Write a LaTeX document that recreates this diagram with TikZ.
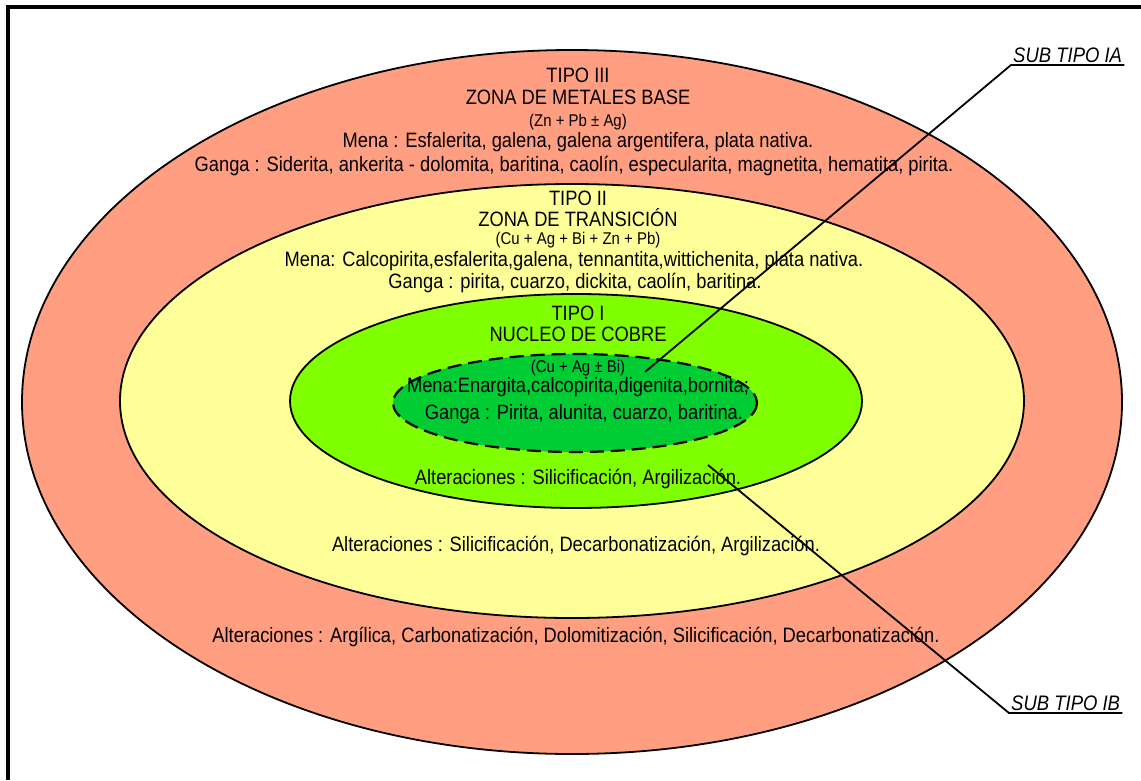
\documentclass[tikz,border=0pt]{standalone}
\usepackage{fontspec}
\setmainfont{Liberation Sans}[FakeStretch=0.88]
\definecolor{salmon}{RGB}{255,158,128}
\definecolor{paleyellow}{RGB}{255,255,153}
\definecolor{limegreen}{RGB}{128,255,0}
\definecolor{coregreen}{RGB}{0,204,51}
\tikzset{
  zone/.style={draw=black,line width=1.8pt},
  txt/.style={inner sep=0pt,font=\fontsize{20.8}{24}\selectfont},
  small/.style={inner sep=0pt,font=\fontsize{17}{20}\selectfont},
  sublabel/.style={inner sep=2pt,font=\fontsize{21}{24}\selectfont\itshape},
  leader/.style={line width=1.8pt}
}
\begin{document}
\begin{tikzpicture}[x=1pt,y=-1pt]
  \useasboundingbox (0,0) rectangle (1141,780);
  % frame
  \draw[line width=3.5pt] (8,780) -- (8,7) -- (1141,7);
  % zones
  \draw[zone,fill=salmon] (572,402) ellipse (550 and 352);
  \draw[zone,fill=paleyellow] (572,401) ellipse (452 and 217);
  \draw[zone,fill=limegreen] (576,401) ellipse (286 and 107);
  \draw[zone,fill=coregreen,line width=2.2pt,dash pattern=on 14pt off 7pt] (575,403) ellipse (182 and 49);
  % tipo III
  \node (t3a) at (578,75) [txt] {TIPO III};
  \node (t3b) at (578,97) [txt] {ZONA DE METALES BASE};
  \node (t3c) at (578,122) [small] {(Zn + Pb ± Ag)};
  \node (t3d) at (578,142) [txt] {Mena : Esfalerita, galena, galena argentifera, plata nativa.};
  \node (t3e) at (574,166) [txt] {Ganga : Siderita, ankerita - dolomita, baritina, caolín, especularita, magnetita, hematita, pirita.};
  % tipo II
  \node (t2a) at (578,198) [txt] {TIPO II};
  \node (t2b) at (578,218) [txt] {ZONA DE TRANSICIÓN};
  \node (t2c) at (578,240) [small] {(Cu + Ag + Bi + Zn + Pb)};
  \node (t2d) at (574,261) [txt] {Mena: Calcopirita,esfalerita,galena, tennantita,wittichenita, plata nativa.};
  \node (t2e) at (575,283) [txt] {Ganga : pirita, cuarzo, dickita, caolín, baritina.};
  % tipo I
  \node (t1a) at (578,313) [txt] {TIPO I};
  \node (t1b) at (578,334) [txt] {NUCLEO DE COBRE};
  \node (t1c) at (578,368) [small] {(Cu + Ag ± Bi)};
  \node (t1d) at (578,387) [txt] {Mena:Enargita,calcopirita,digenita,bornita;};
  \node (t1e) at (584,414) [txt] {Ganga : Pirita, alunita, cuarzo, baritina.};
  % alteraciones
  \node (alt1) at (578,479) [txt] {Alteraciones : Silicificación, Argilización.};
  \node (alt2) at (576,546) [txt] {Alteraciones : Silicificación, Decarbonatización, Argilización.};
  \node (alt3) at (576,637) [txt] {Alteraciones : Argílica, Carbonatización, Dolomitización, Silicificación, Decarbonatización.};
  % sub tipos
  \node (ia) at (1011,65) [sublabel,anchor=south west] {SUB TIPO IA};
  \node (ib) at (1009,713) [sublabel,anchor=south west] {SUB TIPO IB};
  \coordinate (iaend) at (645,372);
  \coordinate (ibend) at (708,465);
  \draw[leader] (iaend) -- (ia.south west) -- (ia.south east);
  \draw[leader] (ibend) -- (ib.south west) -- (ib.south east);
\end{tikzpicture}
\end{document}
